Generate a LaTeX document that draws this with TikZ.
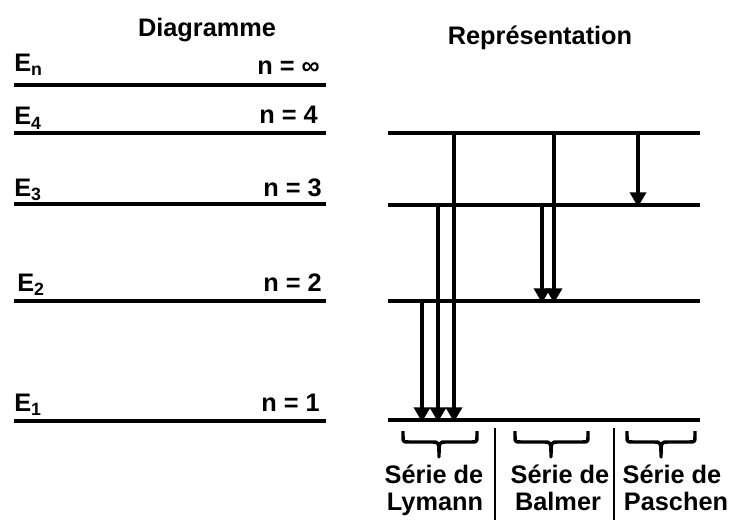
\documentclass[tikz,border=0pt]{standalone}
\usepackage{fontspec}
\setmainfont{Liberation Sans}
\usetikzlibrary{arrows.meta}
\begin{document}
\begin{tikzpicture}[x=0.75pt,y=-0.75pt,
  lbl/.style={font=\fontsize{19}{22}\selectfont\bfseries, inner sep=0pt},
  level/.style={line width=2.7pt},
  trans/.style={line width=2.6pt,-{Triangle[width=12pt,length=11pt]}, shorten >=-1.5pt},
  brc/.style={line width=2.6pt, line join=round},
  sep/.style={line width=0.8pt}]
\useasboundingbox (0,0) rectangle (734,520);
% titles
\node[lbl, anchor=base] (tD) at (207,37) {Diagramme};
\node[lbl, anchor=base] (tR) at (540,45) {Représentation};
% left diagram
\draw[level] (14,85) -- (326,85);
\draw[level] (14,133) -- (326,133);
\draw[level] (14,204) -- (326,204);
\draw[level] (14,301) -- (326,301);
\draw[level] (14,421) -- (326,421);
\node[lbl, anchor=base west] (En) at (14,72) {E\textsubscript{n}};
\node[lbl, anchor=base west] (E4) at (14,125) {E\textsubscript{4}};
\node[lbl, anchor=base west] (E3) at (14,196) {E\textsubscript{3}};
\node[lbl, anchor=base west] (E2) at (17,291) {E\textsubscript{2}};
\node[lbl, anchor=base west] (E1) at (14,411) {E\textsubscript{1}};
\node[lbl, anchor=base east] (ninf) at (320,75) {n = ∞};
\node[lbl, anchor=base east] (n4) at (318,124) {n = 4};
\node[lbl, anchor=base east] (n3) at (322,196) {n = 3};
\node[lbl, anchor=base east] (n2) at (322,291) {n = 2};
\node[lbl, anchor=base east] (n1) at (320,411) {n = 1};
% right representation: levels
\draw[level] (388,133) -- (700,133);
\draw[level] (388,205) -- (700,205);
\draw[level] (388,301) -- (700,301);
\draw[level] (388,420) -- (700,420);
% transitions
\coordinate (L1s) at (422,301); \coordinate (L1e) at (422,420);
\coordinate (L2s) at (438,205); \coordinate (L2e) at (438,420);
\coordinate (L3s) at (454,133); \coordinate (L3e) at (454,420);
\coordinate (B1s) at (542,205); \coordinate (B1e) at (542,301);
\coordinate (B2s) at (554,133); \coordinate (B2e) at (554,301);
\coordinate (P1s) at (638,133); \coordinate (P1e) at (638,205);
\draw[trans] (L1s) -- (L1e);
\draw[trans] (L2s) -- (L2e);
\draw[trans] (L3s) -- (L3e);
\draw[trans] (B1s) -- (B1e);
\draw[trans] (B2s) -- (B2e);
\draw[trans] (P1s) -- (P1e);
% braces
\newcommand{\mybrace}[3]{%
  \draw[brc] (#1,431) -- (#1,436) .. controls (#1,442) .. (#1+6,442) -- (#3-7,442)
    .. controls (#3,442) .. (#3,457) .. controls (#3,442) .. (#3+7,442) -- (#2-6,442)
    .. controls (#2,442) .. (#2,436) -- (#2,431);}
\mybrace{403}{477}{439}
\mybrace{515}{588}{551}
\mybrace{627}{695}{661}
% separators
\draw[sep] (495,428) -- (495,520);
\draw[sep] (614,428) -- (614,520);
% series labels
\node[lbl, anchor=base] (sL1) at (434,483) {Série de};
\node[lbl, anchor=base] (sL2) at (435,510) {Lymann};
\node[lbl, anchor=base] (sB1) at (560,483) {Série de};
\node[lbl, anchor=base] (sB2) at (558,510) {Balmer};
\node[lbl, anchor=base] (sP1) at (672,483) {Série de};
\node[lbl, anchor=base] (sP2) at (676,510) {Paschen};
\end{tikzpicture}
\end{document}
